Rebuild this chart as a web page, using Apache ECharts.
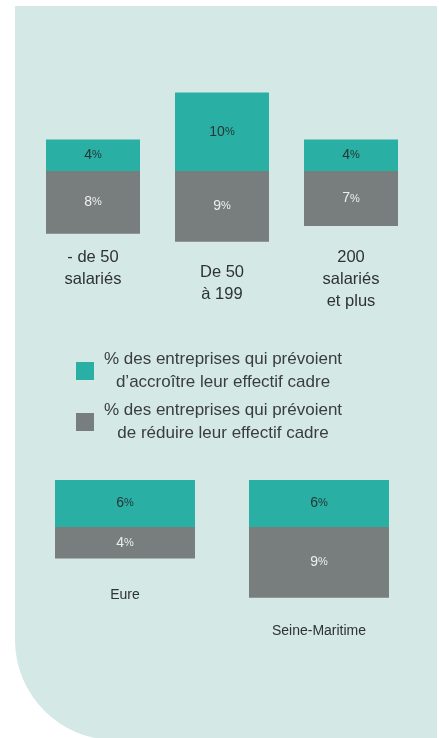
<!DOCTYPE html>
<html>
<head>
<meta charset="utf-8">
<script src="https://cdn.jsdelivr.net/npm/echarts@6/dist/echarts.min.js"></script>
<style>
    html, body { margin: 0; padding: 0; background: #ffffff; }
    #chart { width: 439px; height: 738px; }
</style>
</head>
<body>
<div id="chart"></div>
<script>
// Top chart: by company size
const sizeCategories = ['- de 50\nsalariés', 'De 50\nà 199', '200\nsalariés\net plus'];
const sizeIncrease = [4, 10, 4];
const sizeDecrease = [8, 9, 7];

// Bottom chart: by department
const deptCategories = ['Eure', 'Seine-Maritime'];
const deptIncrease = [6, 6];
const deptDecrease = [4, 9];

const seriesNames = [
    '% des entreprises qui prévoient\nd\u2019accroître leur effectif cadre',
    '% des entreprises qui prévoient\nde réduire leur effectif cadre'
];

document.addEventListener('DOMContentLoaded', function() {
    const chart = echarts.init(document.getElementById('chart'));

    const teal = '#2aafa4';
    const gray = '#787d7e';
    const font = '"Liberation Sans", Arial, sans-serif';

    const valueLabel = function(color) {
        return {
            show: true,
            position: 'inside',
            formatter: function(p) {
                return '{n|' + Math.abs(p.value) + '}{p|%}';
            },
            rich: {
                n: { fontSize: 14, color: color, fontFamily: font },
                p: { fontSize: 11, color: color, fontFamily: font }
            }
        };
    };

    chart.setOption({
        animation: false,
        textStyle: { fontFamily: font },
        graphic: [{
            type: 'rect',
            z: -10,
            silent: true,
            shape: { x: 15, y: 6, width: 422, height: 734, r: [0, 0, 0, 100] },
            style: { fill: '#d4e8e6' }
        }],
        legend: {
            orient: 'vertical',
            left: 71,
            top: 346,
            itemGap: 11,
            itemWidth: 18,
            itemHeight: 18,
            icon: 'rect',
            data: seriesNames,
            formatter: function(name) {
                return name.split('\n').map(l => '{t|' + l + '}').join('\n');
            },
            textStyle: {
                rich: {
                    t: {
                        width: 248,
                        align: 'center',
                        fontSize: 17,
                        lineHeight: 23,
                        color: '#3a3d3d',
                        fontFamily: font
                    }
                }
            }
        },
        grid: [
            { left: 28.5, right: 23.5, top: 84.65, bottom: 496.35 },
            { left: 28, right: 23, top: 472.05, bottom: 140.35 }
        ],
        xAxis: [
            {
                type: 'category',
                gridIndex: 0,
                data: sizeCategories.map((c, i) => i === 1
                    ? { value: c, textStyle: { padding: [15, 0, 0, 0] } }
                    : c),
                axisLine: { show: false },
                axisTick: { show: false },
                axisLabel: {
                    margin: 4.35,
                    fontSize: 16.5,
                    lineHeight: 22,
                    color: '#2f3232',
                    interval: 0
                }
            },
            {
                type: 'category',
                gridIndex: 1,
                data: deptCategories.map((c, i) => i === 1
                    ? { value: c, textStyle: { padding: [36, 0, 0, 0] } }
                    : c),
                axisLine: { show: false },
                axisTick: { show: false },
                axisLabel: {
                    margin: -11.6,
                    fontSize: 14,
                    lineHeight: 18,
                    color: '#2f3232',
                    interval: 0
                }
            }
        ],
        yAxis: [
            { type: 'value', gridIndex: 0, min: -9, max: 11, show: false },
            { type: 'value', gridIndex: 1, min: -9, max: 7, show: false }
        ],
        series: [
            {
                name: seriesNames[0],
                type: 'bar',
                xAxisIndex: 0, yAxisIndex: 0,
                stack: 'size',
                barWidth: 94,
                itemStyle: { color: teal },
                label: valueLabel('#263636'),
                data: sizeIncrease
            },
            {
                name: seriesNames[1],
                type: 'bar',
                xAxisIndex: 0, yAxisIndex: 0,
                stack: 'size',
                barWidth: 94,
                itemStyle: { color: gray },
                label: valueLabel('#eeeeee'),
                data: sizeDecrease.map(v => -v)
            },
            {
                name: seriesNames[0],
                type: 'bar',
                xAxisIndex: 1, yAxisIndex: 1,
                stack: 'dept',
                barWidth: 140,
                itemStyle: { color: teal },
                label: valueLabel('#263636'),
                data: deptIncrease
            },
            {
                name: seriesNames[1],
                type: 'bar',
                xAxisIndex: 1, yAxisIndex: 1,
                stack: 'dept',
                barWidth: 140,
                itemStyle: { color: gray },
                label: valueLabel('#eeeeee'),
                data: deptDecrease.map(v => -v)
            }
        ]
    });
});
</script>
</body>
</html>
